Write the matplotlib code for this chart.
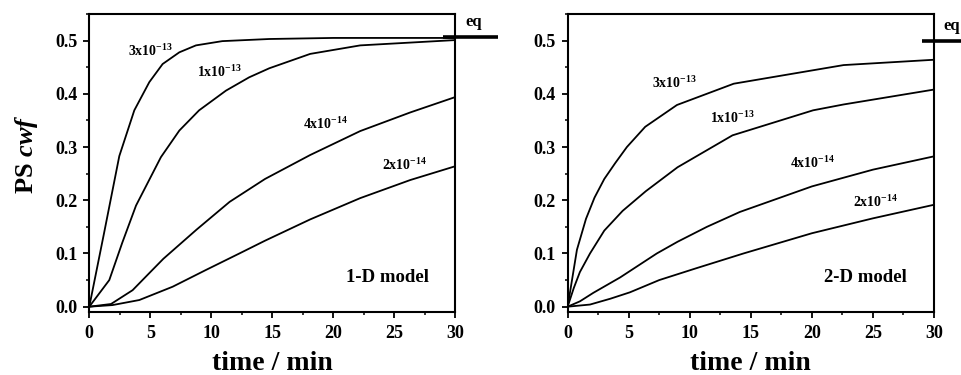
import numpy as np
import matplotlib
matplotlib.use("Agg")
import matplotlib.pyplot as plt
from matplotlib.ticker import MultipleLocator

plt.rcParams['font.family'] = ['Liberation Serif', 'DejaVu Serif']
plt.rcParams['font.weight'] = 'bold'
plt.rcParams['mathtext.fontset'] = 'custom'
plt.rcParams['mathtext.rm'] = 'Liberation Serif:bold'
plt.rcParams['mathtext.it'] = 'Liberation Serif:bold:italic'
plt.rcParams['mathtext.bf'] = 'Liberation Serif:bold'
plt.rcParams['mathtext.default'] = 'regular'

# 1-D model curves (time in min, PS cwf)
t1_3e13 = [0, 1.2, 2.46, 3.69, 4.92, 6.01, 7.38, 8.74, 10.9, 14.75, 20, 30]
y1_3e13 = [0, 0.137, 0.283, 0.369, 0.422, 0.456, 0.478, 0.491, 0.499, 0.503, 0.505, 0.505]
t1_1e13 = [0, 1.64, 2.7, 3.83, 5.87, 7.38, 9.0, 11.2, 13.1, 14.75, 18.1, 22.2, 30]
y1_1e13 = [0, 0.05, 0.12, 0.19, 0.281, 0.331, 0.369, 0.406, 0.431, 0.448, 0.475, 0.491, 0.501]
t1_4e14 = [0, 1.78, 3.55, 5.0, 6.07, 8.8, 11.5, 14.4, 18.1, 22.2, 26.3, 30]
y1_4e14 = [0, 0.005, 0.031, 0.065, 0.09, 0.145, 0.197, 0.24, 0.285, 0.33, 0.365, 0.394]
t1_2e14 = [0, 1.9, 4.1, 6.83, 9.56, 12.3, 14.4, 18.1, 22.2, 26.3, 30]
y1_2e14 = [0, 0.003, 0.0125, 0.0375, 0.069, 0.1, 0.124, 0.164, 0.204, 0.238, 0.264]

# 2-D model curves
t2_3e13 = [0, 0.76, 1.5, 2.2, 3.0, 3.9, 4.85, 6.35, 8.95, 13.6, 22.6, 30]
y2_3e13 = [0, 0.107, 0.165, 0.205, 0.24, 0.27, 0.3, 0.338, 0.379, 0.419, 0.454, 0.464]
t2_1e13 = [0, 0.5, 1.0, 1.83, 3.0, 4.5, 6.4, 9.0, 13.5, 20.1, 22.6, 30]
y2_1e13 = [0, 0.035, 0.065, 0.1, 0.143, 0.18, 0.217, 0.262, 0.322, 0.369, 0.38, 0.408]
t2_4e14 = [0, 1.0, 2.1, 4.3, 7.3, 9.0, 11.4, 14.1, 20.0, 25, 30]
y2_4e14 = [0, 0.01, 0.026, 0.055, 0.1, 0.122, 0.15, 0.178, 0.226, 0.2575, 0.2825]
t2_2e14 = [0, 1.83, 3.5, 5.1, 7.5, 10.5, 14.4, 20, 25, 30]
y2_2e14 = [0, 0.004, 0.015, 0.027, 0.05, 0.072, 0.1, 0.138, 0.166, 0.1915]

labels = ['3x10$^{-13}$', '1x10$^{-13}$', '4x10$^{-14}$', '2x10$^{-14}$']
eq_level = [0.507, 0.50]

panels = [
    dict(curves=[(t1_3e13, y1_3e13), (t1_1e13, y1_1e13), (t1_4e14, y1_4e14), (t1_2e14, y1_2e14)],
         label_pos=[(3.2, 0.48), (8.8, 0.44), (17.5, 0.344), (24.0, 0.266)],
         name='1-D model', eq=eq_level[0], rect=[0.0929, 0.168, 0.381, 0.7947]),
    dict(curves=[(t2_3e13, y2_3e13), (t2_1e13, y2_1e13), (t2_4e14, y2_4e14), (t2_2e14, y2_2e14)],
         label_pos=[(6.9, 0.42), (11.65, 0.354), (18.2, 0.27), (23.4, 0.197)],
         name='2-D model', eq=eq_level[1], rect=[0.5907, 0.168, 0.3812, 0.7947]),
]

fig = plt.figure(figsize=(9.61, 3.75), dpi=100)

for i, p in enumerate(panels):
    ax = fig.add_axes(p['rect'])
    for (t, y) in p['curves']:
        ax.plot(t, y, color='black', lw=1.3)
    for lab, (x, y) in zip(labels, p['label_pos']):
        ax.text(x, y, lab, fontsize=10, fontweight='bold', va='center', ha='left')
    ax.text(21.0, 0.054, p['name'], fontsize=13.5, fontweight='bold', va='center', ha='left')

    # equilibrium marker
    ax.plot([29.0, 33.5], [p['eq'], p['eq']], color='black', lw=2.6, clip_on=False,
            solid_capstyle='butt')
    ax.text(30.8, p['eq'] + 0.012, 'eq', fontsize=12, fontweight='bold', va='bottom', ha='left')

    ax.set_xlim(0, 30)
    ax.set_ylim(-0.01, 0.55)
    ax.xaxis.set_major_locator(MultipleLocator(5))
    ax.xaxis.set_minor_locator(MultipleLocator(2.5))
    ax.yaxis.set_major_locator(MultipleLocator(0.1))
    ax.yaxis.set_minor_locator(MultipleLocator(0.05))
    ax.yaxis.set_major_formatter(plt.FormatStrFormatter('%.1f'))
    ax.tick_params(which='major', direction='out', length=4.5, width=1.3, labelsize=13, pad=4)
    ax.tick_params(which='minor', direction='out', length=2.5, width=1.1)
    ax.tick_params(axis='x', which='major', pad=5)
    for s in ax.spines.values():
        s.set_linewidth(1.5)
    for lbl in ax.get_xticklabels() + ax.get_yticklabels():
        lbl.set_fontweight('bold')
    ax.set_xlabel('time / min', fontsize=20, fontweight='bold', labelpad=6)
    if i == 0:
        ax.set_ylabel(r'PS $\mathit{cwf}$', fontsize=19, fontweight='bold')
        ax.yaxis.set_label_coords(-0.135, 0.53)

fig.savefig('out.png', dpi=100)
